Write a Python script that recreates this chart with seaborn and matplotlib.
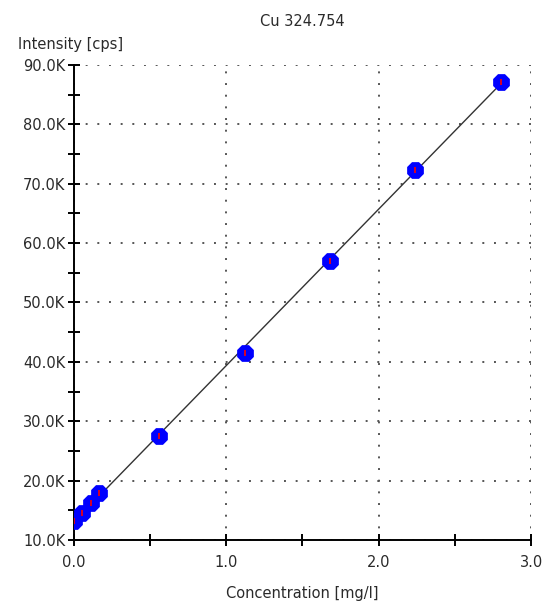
import numpy as np
import pandas as pd
import matplotlib
matplotlib.use("Agg")
import matplotlib.pyplot as plt
import seaborn as sns
from matplotlib.ticker import MultipleLocator, FuncFormatter

# calibration standards
concentration = [0.0, 0.056, 0.112, 0.168, 0.56, 1.12, 1.68, 2.24, 2.80]
intensity = [13200, 14600, 16200, 17900, 27500, 41500, 57000, 72300, 87200]

title = "Cu 324.754"
x_label = "Concentration [mg/l]"
y_label = "Intensity [cps]"

df = pd.DataFrame({"conc": concentration, "cps": intensity})

# linear calibration fit
slope, icept = np.polyfit(df["conc"], df["cps"], 1)
fit = pd.DataFrame({"conc": [df["conc"].min(), df["conc"].max()]})
fit["cps"] = slope * fit["conc"] + icept

sns.set_style("white")
plt.rcParams["font.family"] = ["DejaVu Sans"]

fig = plt.figure(figsize=(5.47, 6.01), dpi=100)
ax = fig.add_axes([0.135, 0.1015, 0.836, 0.7905])

sns.lineplot(data=fit, x="conc", y="cps", color="#333333", linewidth=1.0, ax=ax, zorder=2)
sns.scatterplot(data=df, x="conc", y="cps", color="#0000ff", marker="8", s=170,
                edgecolor="#0000ff", linewidth=0, ax=ax, zorder=3)
sns.scatterplot(data=df, x="conc", y="cps", color="red", marker="|", s=14,
                linewidth=1.2, ax=ax, zorder=4)

ax.set_xlim(0, 3.0)
ax.set_ylim(10000, 90000)
ax.xaxis.set_major_locator(MultipleLocator(1.0))
ax.xaxis.set_minor_locator(MultipleLocator(0.5))
ax.yaxis.set_major_locator(MultipleLocator(10000))
ax.yaxis.set_minor_locator(MultipleLocator(5000))
ax.xaxis.set_major_formatter(FuncFormatter(lambda v, p: f"{v:.1f}"))
ax.yaxis.set_major_formatter(FuncFormatter(lambda v, p: f"{v/1000:.1f}K"))

ax.grid(True, which="major", color="#555555", linestyle=(0, (1, 5)), linewidth=1.4)
ax.tick_params(which="both", direction="inout", length=8, width=1.4, color="black",
               labelsize=10.5, labelcolor="#2a2a2a", left=True, bottom=True)
ax.tick_params(axis="x", pad=7)
ax.tick_params(axis="y", pad=2)

for side in ["top", "right"]:
    ax.spines[side].set_visible(False)
for side in ["left", "bottom"]:
    ax.spines[side].set_color("black")
    ax.spines[side].set_linewidth(1.4)

ax.set_xlabel(x_label, fontsize=10.5, color="#2a2a2a", labelpad=11)
ax.set_ylabel("")
ax.set_title(title, fontsize=10.5, color="#2a2a2a", pad=28)
fig.text(18 / 547, 1 - 45 / 601, y_label, fontsize=10.5, color="#2a2a2a",
         ha="left", va="center")

fig.savefig("out.png", dpi=100)
